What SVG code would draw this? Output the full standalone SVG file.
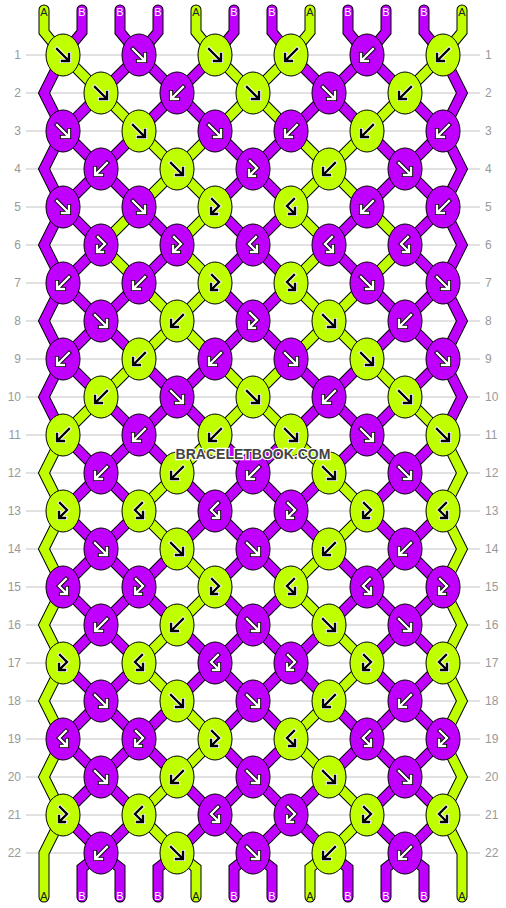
<svg xmlns="http://www.w3.org/2000/svg" xmlns:xlink="http://www.w3.org/1999/xlink" width="506" height="908" viewBox="0 0 506 908">
<style>
.gl{stroke:#c4c4c4;stroke-width:1}
.rn{font-family:"Liberation Sans",Arial,sans-serif;font-size:12px;fill:#999}
.rl{text-anchor:end}
.sl{font-family:"Liberation Sans",Arial,sans-serif;font-size:11px;text-anchor:middle}
.tA{fill:#222}
.tB{fill:#fff}
.so{stroke:#000;stroke-width:11;stroke-linecap:round;stroke-linejoin:miter}
.sL{stroke:#bfff00;stroke-width:9;stroke-linecap:round;stroke-linejoin:miter}
.sP{stroke:#c000ff;stroke-width:9;stroke-linecap:round;stroke-linejoin:miter}
.L{fill:#bfff00}
.P{fill:#c000ff}
.ow{stroke:#000;stroke-width:4.2}
.iw{stroke:#fff;stroke-width:2.4}
.ob{stroke:#fff;stroke-width:4.2}
.ib{stroke:#000;stroke-width:2.4}
.wm{font-family:"Liberation Sans",Arial,sans-serif;font-size:14px;font-weight:bold;fill:#444;stroke:#fff;stroke-width:2.5;paint-order:stroke;text-anchor:middle}
</style>
<defs>
<ellipse id="kn" rx="17" ry="21" stroke="#000" stroke-width="1"/>
<path id="af" fill="none" stroke-linecap="square" stroke-linejoin="miter" d="M-6,-6 L5,5 M6,-1 L6,6 L-1,6"/>
<path id="ab" fill="none" stroke-linecap="square" stroke-linejoin="miter" d="M6,-6 L-5,5 M-6,-1 L-6,6 L1,6"/>
<path id="afb" fill="none" stroke-linecap="square" stroke-linejoin="miter" d="M-3,-8 L4,-1 L-3,6 M-4,1 L-4,7 L2,7"/>
<path id="abf" fill="none" stroke-linecap="square" stroke-linejoin="miter" d="M3,-8 L-4,-1 L3,6 M4,1 L4,7 L-2,7"/>
<g id="fW"><use href="#af" class="ow"/><use href="#af" class="iw"/></g>
<g id="fB"><use href="#af" class="ob"/><use href="#af" class="ib"/></g>
<g id="bW"><use href="#ab" class="ow"/><use href="#ab" class="iw"/></g>
<g id="bB"><use href="#ab" class="ob"/><use href="#ab" class="ib"/></g>
<g id="fbW"><use href="#afb" class="ow"/><use href="#afb" class="iw"/></g>
<g id="fbB"><use href="#afb" class="ob"/><use href="#afb" class="ib"/></g>
<g id="bfW"><use href="#abf" class="ow"/><use href="#abf" class="iw"/></g>
<g id="bfB"><use href="#abf" class="ob"/><use href="#abf" class="ib"/></g>
<polyline id="s0" fill="none" points="44,10 44,32 63,55 101,93 139,131 177,169 215,207 177,245 215,283 177,321 139,359 101,397 63,435 44,473 63,511 44,549 63,587 44,625 63,663 44,701 63,739 44,777 63,815 44,853 44,897"/>
<polyline id="s1" fill="none" points="82,10 82,32 63,55 44,93 63,131 101,169 139,207 177,245 139,283 101,321 63,359 44,397 63,435 101,473 139,511 101,549 63,587 101,625 139,663 101,701 63,739 101,777 139,815 101,853 82,868 82,897"/>
<polyline id="s2" fill="none" points="120,10 120,32 139,55 177,93 215,131 253,169 215,207 253,245 215,283 253,321 215,359 177,397 139,435 101,473 63,511 101,549 139,587 101,625 63,663 101,701 139,739 101,777 63,815 101,853 120,868 120,897"/>
<polyline id="s3" fill="none" points="158,10 158,32 139,55 101,93 63,131 44,169 63,207 101,245 63,283 44,321 63,359 101,397 139,435 177,473 215,511 177,549 139,587 177,625 215,663 177,701 139,739 177,777 215,815 177,853 158,868 158,897"/>
<polyline id="s4" fill="none" points="196,10 196,32 215,55 253,93 291,131 329,169 367,207 405,245 367,283 329,321 291,359 253,397 215,435 177,473 139,511 177,549 215,587 177,625 139,663 177,701 215,739 177,777 139,815 177,853 196,868 196,897"/>
<polyline id="s5" fill="none" points="234,10 234,32 215,55 177,93 139,131 101,169 63,207 44,245 63,283 101,321 139,359 177,397 215,435 253,473 291,511 253,549 215,587 253,625 291,663 253,701 215,739 253,777 291,815 253,853 234,868 234,897"/>
<polyline id="s6" fill="none" points="272,10 272,32 291,55 329,93 367,131 405,169 443,207 462,245 443,283 405,321 367,359 329,397 291,435 253,473 215,511 253,549 291,587 253,625 215,663 253,701 291,739 253,777 215,815 253,853 272,868 272,897"/>
<polyline id="s7" fill="none" points="310,10 310,32 291,55 253,93 215,131 177,169 139,207 101,245 139,283 177,321 215,359 253,397 291,435 329,473 367,511 329,549 291,587 329,625 367,663 329,701 291,739 329,777 367,815 329,853 310,868 310,897"/>
<polyline id="s8" fill="none" points="348,10 348,32 367,55 405,93 443,131 462,169 443,207 405,245 443,283 462,321 443,359 405,397 367,435 329,473 291,511 329,549 367,587 329,625 291,663 329,701 367,739 329,777 291,815 329,853 348,868 348,897"/>
<polyline id="s9" fill="none" points="386,10 386,32 367,55 329,93 291,131 253,169 291,207 253,245 291,283 253,321 291,359 329,397 367,435 405,473 443,511 405,549 367,587 405,625 443,663 405,701 367,739 405,777 443,815 405,853 386,868 386,897"/>
<polyline id="s10" fill="none" points="424,10 424,32 443,55 462,93 443,131 405,169 367,207 329,245 367,283 405,321 443,359 462,397 443,435 405,473 367,511 405,549 443,587 405,625 367,663 405,701 443,739 405,777 367,815 405,853 424,868 424,897"/>
<polyline id="s11" fill="none" points="462,10 462,32 443,55 405,93 367,131 329,169 291,207 329,245 291,283 329,321 367,359 405,397 443,435 462,473 443,511 462,549 443,587 462,625 443,663 462,701 443,739 462,777 443,815 462,853 462,897"/>
</defs>
<rect width="506" height="908" fill="#fff"/>
<g id="rows">
<line class="gl" x1="26" x2="480" y1="55" y2="55"/><line class="gl" x1="26" x2="480" y1="93" y2="93"/><line class="gl" x1="26" x2="480" y1="131" y2="131"/><line class="gl" x1="26" x2="480" y1="169" y2="169"/><line class="gl" x1="26" x2="480" y1="207" y2="207"/><line class="gl" x1="26" x2="480" y1="245" y2="245"/><line class="gl" x1="26" x2="480" y1="283" y2="283"/><line class="gl" x1="26" x2="480" y1="321" y2="321"/><line class="gl" x1="26" x2="480" y1="359" y2="359"/><line class="gl" x1="26" x2="480" y1="397" y2="397"/><line class="gl" x1="26" x2="480" y1="435" y2="435"/><line class="gl" x1="26" x2="480" y1="473" y2="473"/><line class="gl" x1="26" x2="480" y1="511" y2="511"/><line class="gl" x1="26" x2="480" y1="549" y2="549"/><line class="gl" x1="26" x2="480" y1="587" y2="587"/><line class="gl" x1="26" x2="480" y1="625" y2="625"/><line class="gl" x1="26" x2="480" y1="663" y2="663"/><line class="gl" x1="26" x2="480" y1="701" y2="701"/><line class="gl" x1="26" x2="480" y1="739" y2="739"/><line class="gl" x1="26" x2="480" y1="777" y2="777"/><line class="gl" x1="26" x2="480" y1="815" y2="815"/><line class="gl" x1="26" x2="480" y1="853" y2="853"/>
<text class="rn rl" x="21" y="59">1</text><text class="rn rl" x="21" y="97">2</text><text class="rn rl" x="21" y="135">3</text><text class="rn rl" x="21" y="173">4</text><text class="rn rl" x="21" y="211">5</text><text class="rn rl" x="21" y="249">6</text><text class="rn rl" x="21" y="287">7</text><text class="rn rl" x="21" y="325">8</text><text class="rn rl" x="21" y="363">9</text><text class="rn rl" x="21" y="401">10</text><text class="rn rl" x="21" y="439">11</text><text class="rn rl" x="21" y="477">12</text><text class="rn rl" x="21" y="515">13</text><text class="rn rl" x="21" y="553">14</text><text class="rn rl" x="21" y="591">15</text><text class="rn rl" x="21" y="629">16</text><text class="rn rl" x="21" y="667">17</text><text class="rn rl" x="21" y="705">18</text><text class="rn rl" x="21" y="743">19</text><text class="rn rl" x="21" y="781">20</text><text class="rn rl" x="21" y="819">21</text><text class="rn rl" x="21" y="857">22</text>
<text class="rn" x="485" y="59">1</text><text class="rn" x="485" y="97">2</text><text class="rn" x="485" y="135">3</text><text class="rn" x="485" y="173">4</text><text class="rn" x="485" y="211">5</text><text class="rn" x="485" y="249">6</text><text class="rn" x="485" y="287">7</text><text class="rn" x="485" y="325">8</text><text class="rn" x="485" y="363">9</text><text class="rn" x="485" y="401">10</text><text class="rn" x="485" y="439">11</text><text class="rn" x="485" y="477">12</text><text class="rn" x="485" y="515">13</text><text class="rn" x="485" y="553">14</text><text class="rn" x="485" y="591">15</text><text class="rn" x="485" y="629">16</text><text class="rn" x="485" y="667">17</text><text class="rn" x="485" y="705">18</text><text class="rn" x="485" y="743">19</text><text class="rn" x="485" y="781">20</text><text class="rn" x="485" y="819">21</text><text class="rn" x="485" y="857">22</text>
</g>
<g id="connectors">
<use href="#s0" class="so"/><use href="#s1" class="so"/><use href="#s2" class="so"/><use href="#s3" class="so"/><use href="#s4" class="so"/><use href="#s5" class="so"/><use href="#s6" class="so"/><use href="#s7" class="so"/><use href="#s8" class="so"/><use href="#s9" class="so"/><use href="#s10" class="so"/><use href="#s11" class="so"/>
<use href="#s0" class="sL"/><use href="#s1" class="sP"/><use href="#s2" class="sP"/><use href="#s3" class="sP"/><use href="#s4" class="sL"/><use href="#s5" class="sP"/><use href="#s6" class="sP"/><use href="#s7" class="sL"/><use href="#s8" class="sP"/><use href="#s9" class="sP"/><use href="#s10" class="sP"/><use href="#s11" class="sL"/>
</g>
<g id="labels">
<text class="sl tA" x="44" y="16">A</text><text class="sl tB" x="82" y="16">B</text><text class="sl tB" x="120" y="16">B</text><text class="sl tB" x="158" y="16">B</text><text class="sl tA" x="196" y="16">A</text><text class="sl tB" x="234" y="16">B</text><text class="sl tB" x="272" y="16">B</text><text class="sl tA" x="310" y="16">A</text><text class="sl tB" x="348" y="16">B</text><text class="sl tB" x="386" y="16">B</text><text class="sl tB" x="424" y="16">B</text><text class="sl tA" x="462" y="16">A</text>
<text class="sl tA" x="44" y="900">A</text><text class="sl tB" x="82" y="900">B</text><text class="sl tB" x="120" y="900">B</text><text class="sl tB" x="158" y="900">B</text><text class="sl tA" x="196" y="900">A</text><text class="sl tB" x="234" y="900">B</text><text class="sl tB" x="272" y="900">B</text><text class="sl tA" x="310" y="900">A</text><text class="sl tB" x="348" y="900">B</text><text class="sl tB" x="386" y="900">B</text><text class="sl tB" x="424" y="900">B</text><text class="sl tA" x="462" y="900">A</text>
</g>
<g id="knots">
<g id="r1k1" class="L" transform="translate(63,55)"><use href="#kn"/><use href="#fB"/></g>
<g id="r1k2" class="P" transform="translate(139,55)"><use href="#kn"/><use href="#fW"/></g>
<g id="r1k3" class="L" transform="translate(215,55)"><use href="#kn"/><use href="#fB"/></g>
<g id="r1k4" class="L" transform="translate(291,55)"><use href="#kn"/><use href="#bB"/></g>
<g id="r1k5" class="P" transform="translate(367,55)"><use href="#kn"/><use href="#bW"/></g>
<g id="r1k6" class="L" transform="translate(443,55)"><use href="#kn"/><use href="#bB"/></g>
<g id="r2k1" class="L" transform="translate(101,93)"><use href="#kn"/><use href="#fB"/></g>
<g id="r2k2" class="P" transform="translate(177,93)"><use href="#kn"/><use href="#bW"/></g>
<g id="r2k3" class="L" transform="translate(253,93)"><use href="#kn"/><use href="#fB"/></g>
<g id="r2k4" class="P" transform="translate(329,93)"><use href="#kn"/><use href="#fW"/></g>
<g id="r2k5" class="L" transform="translate(405,93)"><use href="#kn"/><use href="#bB"/></g>
<g id="r3k1" class="P" transform="translate(63,131)"><use href="#kn"/><use href="#fW"/></g>
<g id="r3k2" class="L" transform="translate(139,131)"><use href="#kn"/><use href="#fB"/></g>
<g id="r3k3" class="P" transform="translate(215,131)"><use href="#kn"/><use href="#fW"/></g>
<g id="r3k4" class="P" transform="translate(291,131)"><use href="#kn"/><use href="#bW"/></g>
<g id="r3k5" class="L" transform="translate(367,131)"><use href="#kn"/><use href="#bB"/></g>
<g id="r3k6" class="P" transform="translate(443,131)"><use href="#kn"/><use href="#bW"/></g>
<g id="r4k1" class="P" transform="translate(101,169)"><use href="#kn"/><use href="#bW"/></g>
<g id="r4k2" class="L" transform="translate(177,169)"><use href="#kn"/><use href="#fB"/></g>
<g id="r4k3" class="P" transform="translate(253,169)"><use href="#kn"/><use href="#fbW"/></g>
<g id="r4k4" class="L" transform="translate(329,169)"><use href="#kn"/><use href="#bB"/></g>
<g id="r4k5" class="P" transform="translate(405,169)"><use href="#kn"/><use href="#fW"/></g>
<g id="r5k1" class="P" transform="translate(63,207)"><use href="#kn"/><use href="#fW"/></g>
<g id="r5k2" class="P" transform="translate(139,207)"><use href="#kn"/><use href="#fW"/></g>
<g id="r5k3" class="L" transform="translate(215,207)"><use href="#kn"/><use href="#fbB"/></g>
<g id="r5k4" class="L" transform="translate(291,207)"><use href="#kn"/><use href="#bfB"/></g>
<g id="r5k5" class="P" transform="translate(367,207)"><use href="#kn"/><use href="#bW"/></g>
<g id="r5k6" class="P" transform="translate(443,207)"><use href="#kn"/><use href="#bW"/></g>
<g id="r6k1" class="P" transform="translate(101,245)"><use href="#kn"/><use href="#fbW"/></g>
<g id="r6k2" class="P" transform="translate(177,245)"><use href="#kn"/><use href="#fbW"/></g>
<g id="r6k3" class="P" transform="translate(253,245)"><use href="#kn"/><use href="#bfW"/></g>
<g id="r6k4" class="P" transform="translate(329,245)"><use href="#kn"/><use href="#bfW"/></g>
<g id="r6k5" class="P" transform="translate(405,245)"><use href="#kn"/><use href="#bfW"/></g>
<g id="r7k1" class="P" transform="translate(63,283)"><use href="#kn"/><use href="#bW"/></g>
<g id="r7k2" class="P" transform="translate(139,283)"><use href="#kn"/><use href="#bW"/></g>
<g id="r7k3" class="L" transform="translate(215,283)"><use href="#kn"/><use href="#fbB"/></g>
<g id="r7k4" class="L" transform="translate(291,283)"><use href="#kn"/><use href="#bfB"/></g>
<g id="r7k5" class="P" transform="translate(367,283)"><use href="#kn"/><use href="#fW"/></g>
<g id="r7k6" class="P" transform="translate(443,283)"><use href="#kn"/><use href="#fW"/></g>
<g id="r8k1" class="P" transform="translate(101,321)"><use href="#kn"/><use href="#fW"/></g>
<g id="r8k2" class="L" transform="translate(177,321)"><use href="#kn"/><use href="#bB"/></g>
<g id="r8k3" class="P" transform="translate(253,321)"><use href="#kn"/><use href="#fbW"/></g>
<g id="r8k4" class="L" transform="translate(329,321)"><use href="#kn"/><use href="#fB"/></g>
<g id="r8k5" class="P" transform="translate(405,321)"><use href="#kn"/><use href="#bW"/></g>
<g id="r9k1" class="P" transform="translate(63,359)"><use href="#kn"/><use href="#bW"/></g>
<g id="r9k2" class="L" transform="translate(139,359)"><use href="#kn"/><use href="#bB"/></g>
<g id="r9k3" class="P" transform="translate(215,359)"><use href="#kn"/><use href="#bW"/></g>
<g id="r9k4" class="P" transform="translate(291,359)"><use href="#kn"/><use href="#fW"/></g>
<g id="r9k5" class="L" transform="translate(367,359)"><use href="#kn"/><use href="#fB"/></g>
<g id="r9k6" class="P" transform="translate(443,359)"><use href="#kn"/><use href="#fW"/></g>
<g id="r10k1" class="L" transform="translate(101,397)"><use href="#kn"/><use href="#bB"/></g>
<g id="r10k2" class="P" transform="translate(177,397)"><use href="#kn"/><use href="#fW"/></g>
<g id="r10k3" class="L" transform="translate(253,397)"><use href="#kn"/><use href="#fB"/></g>
<g id="r10k4" class="P" transform="translate(329,397)"><use href="#kn"/><use href="#bW"/></g>
<g id="r10k5" class="L" transform="translate(405,397)"><use href="#kn"/><use href="#fB"/></g>
<g id="r11k1" class="L" transform="translate(63,435)"><use href="#kn"/><use href="#bB"/></g>
<g id="r11k2" class="P" transform="translate(139,435)"><use href="#kn"/><use href="#bW"/></g>
<g id="r11k3" class="L" transform="translate(215,435)"><use href="#kn"/><use href="#bB"/></g>
<g id="r11k4" class="L" transform="translate(291,435)"><use href="#kn"/><use href="#fB"/></g>
<g id="r11k5" class="P" transform="translate(367,435)"><use href="#kn"/><use href="#fW"/></g>
<g id="r11k6" class="L" transform="translate(443,435)"><use href="#kn"/><use href="#fB"/></g>
<g id="r12k1" class="P" transform="translate(101,473)"><use href="#kn"/><use href="#bW"/></g>
<g id="r12k2" class="L" transform="translate(177,473)"><use href="#kn"/><use href="#bB"/></g>
<g id="r12k3" class="P" transform="translate(253,473)"><use href="#kn"/><use href="#bW"/></g>
<g id="r12k4" class="L" transform="translate(329,473)"><use href="#kn"/><use href="#fB"/></g>
<g id="r12k5" class="P" transform="translate(405,473)"><use href="#kn"/><use href="#fW"/></g>
<g id="r13k1" class="L" transform="translate(63,511)"><use href="#kn"/><use href="#fbB"/></g>
<g id="r13k2" class="L" transform="translate(139,511)"><use href="#kn"/><use href="#bfB"/></g>
<g id="r13k3" class="P" transform="translate(215,511)"><use href="#kn"/><use href="#bfW"/></g>
<g id="r13k4" class="P" transform="translate(291,511)"><use href="#kn"/><use href="#fbW"/></g>
<g id="r13k5" class="L" transform="translate(367,511)"><use href="#kn"/><use href="#fbB"/></g>
<g id="r13k6" class="L" transform="translate(443,511)"><use href="#kn"/><use href="#bfB"/></g>
<g id="r14k1" class="P" transform="translate(101,549)"><use href="#kn"/><use href="#fW"/></g>
<g id="r14k2" class="L" transform="translate(177,549)"><use href="#kn"/><use href="#fB"/></g>
<g id="r14k3" class="P" transform="translate(253,549)"><use href="#kn"/><use href="#fW"/></g>
<g id="r14k4" class="L" transform="translate(329,549)"><use href="#kn"/><use href="#bB"/></g>
<g id="r14k5" class="P" transform="translate(405,549)"><use href="#kn"/><use href="#bW"/></g>
<g id="r15k1" class="P" transform="translate(63,587)"><use href="#kn"/><use href="#bfW"/></g>
<g id="r15k2" class="P" transform="translate(139,587)"><use href="#kn"/><use href="#fbW"/></g>
<g id="r15k3" class="L" transform="translate(215,587)"><use href="#kn"/><use href="#fbB"/></g>
<g id="r15k4" class="L" transform="translate(291,587)"><use href="#kn"/><use href="#bfB"/></g>
<g id="r15k5" class="P" transform="translate(367,587)"><use href="#kn"/><use href="#bfW"/></g>
<g id="r15k6" class="P" transform="translate(443,587)"><use href="#kn"/><use href="#fbW"/></g>
<g id="r16k1" class="P" transform="translate(101,625)"><use href="#kn"/><use href="#bW"/></g>
<g id="r16k2" class="L" transform="translate(177,625)"><use href="#kn"/><use href="#bB"/></g>
<g id="r16k3" class="P" transform="translate(253,625)"><use href="#kn"/><use href="#fW"/></g>
<g id="r16k4" class="L" transform="translate(329,625)"><use href="#kn"/><use href="#fB"/></g>
<g id="r16k5" class="P" transform="translate(405,625)"><use href="#kn"/><use href="#fW"/></g>
<g id="r17k1" class="L" transform="translate(63,663)"><use href="#kn"/><use href="#fbB"/></g>
<g id="r17k2" class="L" transform="translate(139,663)"><use href="#kn"/><use href="#bfB"/></g>
<g id="r17k3" class="P" transform="translate(215,663)"><use href="#kn"/><use href="#bfW"/></g>
<g id="r17k4" class="P" transform="translate(291,663)"><use href="#kn"/><use href="#fbW"/></g>
<g id="r17k5" class="L" transform="translate(367,663)"><use href="#kn"/><use href="#fbB"/></g>
<g id="r17k6" class="L" transform="translate(443,663)"><use href="#kn"/><use href="#bfB"/></g>
<g id="r18k1" class="P" transform="translate(101,701)"><use href="#kn"/><use href="#fW"/></g>
<g id="r18k2" class="L" transform="translate(177,701)"><use href="#kn"/><use href="#fB"/></g>
<g id="r18k3" class="P" transform="translate(253,701)"><use href="#kn"/><use href="#fW"/></g>
<g id="r18k4" class="L" transform="translate(329,701)"><use href="#kn"/><use href="#bB"/></g>
<g id="r18k5" class="P" transform="translate(405,701)"><use href="#kn"/><use href="#bW"/></g>
<g id="r19k1" class="P" transform="translate(63,739)"><use href="#kn"/><use href="#bfW"/></g>
<g id="r19k2" class="P" transform="translate(139,739)"><use href="#kn"/><use href="#fbW"/></g>
<g id="r19k3" class="L" transform="translate(215,739)"><use href="#kn"/><use href="#fbB"/></g>
<g id="r19k4" class="L" transform="translate(291,739)"><use href="#kn"/><use href="#bfB"/></g>
<g id="r19k5" class="P" transform="translate(367,739)"><use href="#kn"/><use href="#bfW"/></g>
<g id="r19k6" class="P" transform="translate(443,739)"><use href="#kn"/><use href="#fbW"/></g>
<g id="r20k1" class="P" transform="translate(101,777)"><use href="#kn"/><use href="#fW"/></g>
<g id="r20k2" class="L" transform="translate(177,777)"><use href="#kn"/><use href="#bB"/></g>
<g id="r20k3" class="P" transform="translate(253,777)"><use href="#kn"/><use href="#fW"/></g>
<g id="r20k4" class="L" transform="translate(329,777)"><use href="#kn"/><use href="#fB"/></g>
<g id="r20k5" class="P" transform="translate(405,777)"><use href="#kn"/><use href="#fW"/></g>
<g id="r21k1" class="L" transform="translate(63,815)"><use href="#kn"/><use href="#fbB"/></g>
<g id="r21k2" class="L" transform="translate(139,815)"><use href="#kn"/><use href="#bfB"/></g>
<g id="r21k3" class="P" transform="translate(215,815)"><use href="#kn"/><use href="#bfW"/></g>
<g id="r21k4" class="P" transform="translate(291,815)"><use href="#kn"/><use href="#fbW"/></g>
<g id="r21k5" class="L" transform="translate(367,815)"><use href="#kn"/><use href="#fbB"/></g>
<g id="r21k6" class="L" transform="translate(443,815)"><use href="#kn"/><use href="#bfB"/></g>
<g id="r22k1" class="P" transform="translate(101,853)"><use href="#kn"/><use href="#bW"/></g>
<g id="r22k2" class="L" transform="translate(177,853)"><use href="#kn"/><use href="#fB"/></g>
<g id="r22k3" class="P" transform="translate(253,853)"><use href="#kn"/><use href="#fW"/></g>
<g id="r22k4" class="L" transform="translate(329,853)"><use href="#kn"/><use href="#bB"/></g>
<g id="r22k5" class="P" transform="translate(405,853)"><use href="#kn"/><use href="#bW"/></g>
</g>
<text class="wm" x="253" y="459">BRACELETBOOK.COM</text>
</svg>
